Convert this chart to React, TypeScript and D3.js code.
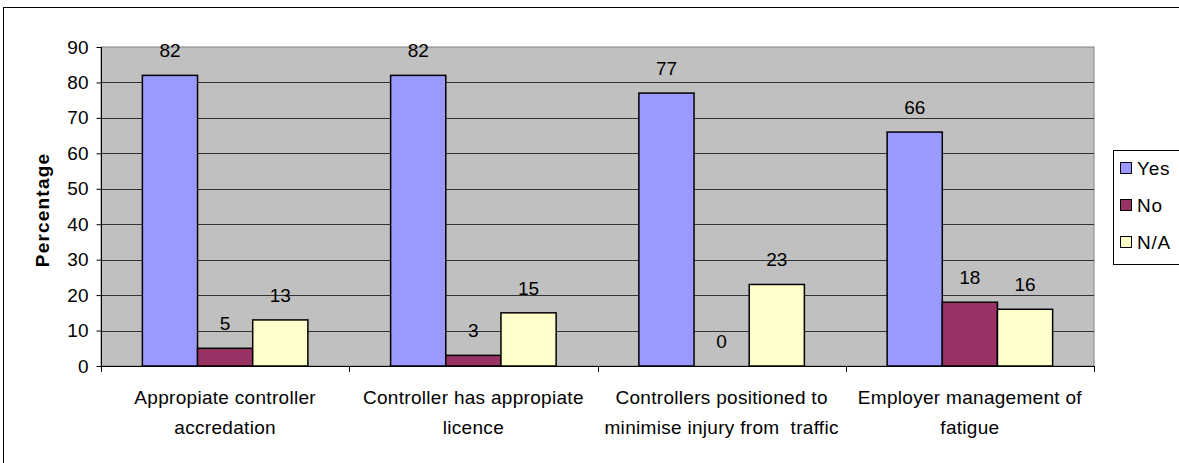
import * as d3 from "d3";
import { useEffect, useRef } from "react";

const categories = [
  ["Appropiate controller", "accredation"],
  ["Controller has appropiate", "licence"],
  ["Controllers positioned to", "minimise injury from  traffic"],
  ["Employer management of", "fatigue"],
];
const seriesNames = ["Yes", "No", "N/A"];
const yesValues = [82, 82, 77, 66];
const noValues = [5, 3, 0, 18];
const naValues = [13, 15, 23, 16];
const yTicks = [0, 10, 20, 30, 40, 50, 60, 70, 80, 90];
const colors = ["#9999FF", "#993366", "#FFFFCC"];

const width = 1179;
const height = 463;
const plotLeft = 101;
const plotRight = 1094;
const plotTop = 47;
const plotBottom = 366;
const font = "'Liberation Sans', Arial, sans-serif";
const fs = 19;

const App = () => {
  const ref = useRef<SVGSVGElement>(null);

  useEffect(() => {
    const svg = d3.select(ref.current);
    svg.selectAll("*").remove();

    const series = [yesValues, noValues, naValues];
    const idx = categories.map((_, i) => i);

    const x0 = d3
      .scaleBand<number>()
      .domain(idx)
      .range([plotLeft, plotRight]);
    const x1 = d3
      .scaleBand<number>()
      .domain([0, 1, 2])
      .range([0, x0.bandwidth()])
      .paddingOuter(0.75)
      .paddingInner(0);
    const y = d3.scaleLinear().domain([0, 90]).range([plotBottom, plotTop]);

    // outer frame
    svg
      .append("rect")
      .attr("x", 3.5)
      .attr("y", 7.5)
      .attr("width", width + 10)
      .attr("height", height + 10)
      .attr("fill", "#fff")
      .attr("stroke", "#000")
      .attr("stroke-width", 1);

    // plot area
    svg
      .append("rect")
      .attr("x", plotLeft)
      .attr("y", plotTop)
      .attr("width", plotRight - plotLeft)
      .attr("height", plotBottom - plotTop)
      .attr("fill", "#C0C0C0")
      .attr("stroke", "#808080")
      .attr("stroke-width", 1);

    // gridlines
    svg
      .append("g")
      .selectAll("line")
      .data(yTicks.filter((t) => t > 0 && t < 90))
      .enter()
      .append("line")
      .attr("x1", plotLeft)
      .attr("x2", plotRight)
      .attr("y1", (d) => Math.round(y(d)) + 0.5)
      .attr("y2", (d) => Math.round(y(d)) + 0.5)
      .attr("stroke", "#333")
      .attr("stroke-width", 1);

    // bars
    series.forEach((vals, s) => {
      svg
        .append("g")
        .selectAll("rect")
        .data(vals)
        .enter()
        .append("rect")
        .attr("x", (_, i) => x0(i)! + x1(s)!)
        .attr("y", (d) => y(d))
        .attr("width", x1.bandwidth())
        .attr("height", (d) => y(0) - y(d))
        .attr("fill", colors[s])
        .attr("stroke", "#000")
        .attr("stroke-width", 1.5);

      svg
        .append("g")
        .selectAll("text")
        .data(vals)
        .enter()
        .append("text")
        .attr("x", (_, i) => x0(i)! + x1(s)! + x1.bandwidth() / 2)
        .attr("y", (d) => y(d) - 18)
        .attr("text-anchor", "middle")
        .attr("font-family", font)
        .attr("font-size", fs)
        .attr("fill", "#000")
        .text((d) => d);
    });

    // y axis
    const yAxis = d3
      .axisLeft(y)
      .tickValues(yTicks)
      .tickSize(5)
      .tickPadding(8);
    const gy = svg
      .append("g")
      .attr("transform", `translate(${plotLeft + 0.5},0)`)
      .call(yAxis);
    gy.select(".domain").attr("stroke", "#000").attr("d", `M-0,${plotTop}V${plotBottom}`);
    gy.selectAll("line").attr("stroke", "#000");
    gy.selectAll("text")
      .attr("font-family", font)
      .attr("font-size", fs)
      .attr("fill", "#000");

    // x axis line and ticks
    svg
      .append("line")
      .attr("x1", plotLeft)
      .attr("x2", plotRight)
      .attr("y1", plotBottom + 0.5)
      .attr("y2", plotBottom + 0.5)
      .attr("stroke", "#000");
    const bounds = [...idx.map((i) => x0(i)!), plotRight];
    svg
      .append("g")
      .selectAll("line")
      .data(bounds)
      .enter()
      .append("line")
      .attr("x1", (d) => Math.round(d) + 0.5)
      .attr("x2", (d) => Math.round(d) + 0.5)
      .attr("y1", plotBottom)
      .attr("y2", plotBottom + 6)
      .attr("stroke", "#000");

    // category labels
    const cl = svg
      .append("g")
      .selectAll("text")
      .data(categories)
      .enter()
      .append("text")
      .attr("text-anchor", "middle")
      .attr("font-family", font)
      .attr("font-size", fs)
      .attr("letter-spacing", 0.3)
      .attr("fill", "#000");
    cl.each(function (d, i) {
      const t = d3.select(this);
      d.forEach((line, j) => {
        t.append("tspan")
          .attr("x", x0(i)! + x0.bandwidth() / 2)
          .attr("y", 404 + j * 30)
          .attr("xml:space", "preserve")
          .text(line);
      });
    });

    // y title
    svg
      .append("text")
      .attr("transform", `translate(49,210) rotate(-90)`)
      .attr("text-anchor", "middle")
      .attr("font-family", font)
      .attr("font-size", fs)
      .attr("font-weight", "bold")
      .attr("letter-spacing", 1.2)
      .attr("fill", "#000")
      .text("Percentage");

    // legend
    const lg = svg.append("g");
    lg.append("rect")
      .attr("x", 1113.5)
      .attr("y", 150.5)
      .attr("width", 80)
      .attr("height", 114)
      .attr("fill", "#fff")
      .attr("stroke", "#000");
    seriesNames.forEach((name, s) => {
      const cy = 168 + s * 37;
      lg.append("rect")
        .attr("x", 1120.5)
        .attr("y", cy - 5.5)
        .attr("width", 11)
        .attr("height", 11)
        .attr("fill", colors[s])
        .attr("stroke", "#000")
        .attr("stroke-width", 1);
      lg.append("text")
        .attr("x", 1137)
        .attr("y", cy + 7)
        .attr("font-family", font)
        .attr("font-size", fs)
        .attr("letter-spacing", 0.8)
        .attr("fill", "#000")
        .text(name);
    });
  }, []);

  return (
    <svg
      ref={ref}
      width={width}
      height={height}
      style={{ position: "absolute", left: 0, top: 0, display: "block" }}
    />
  );
};

export default App;
